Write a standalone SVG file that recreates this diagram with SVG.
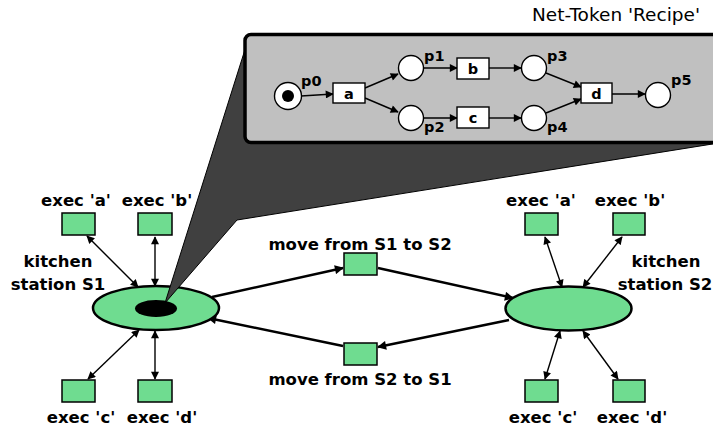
<svg xmlns="http://www.w3.org/2000/svg" width="713" height="430" viewBox="0 0 713 430">
<defs>
<style>
.lbl{font-family:"DejaVu Sans","Liberation Sans",sans-serif;font-weight:bold;font-size:16.5px;fill:#000}
.tl{font-family:"DejaVu Sans","Liberation Sans",sans-serif;font-weight:bold;font-size:14.5px;fill:#000}
.title{font-family:"DejaVu Sans","Liberation Sans",sans-serif;font-size:18.5px;fill:#000}
.place{fill:#6fdc90;stroke:#000;stroke-width:2.5}
.trans{fill:#6fdc90;stroke:#000;stroke-width:1.5}
.tplace{fill:#fff;stroke:#000;stroke-width:1.4}
.ttrans{fill:#fff;stroke:#000;stroke-width:1.4}
.arc{fill:none;stroke:#000;stroke-width:2.5}
.dbl{fill:none;stroke:#000;stroke-width:1.4}
.tarc{fill:none;stroke:#000;stroke-width:1.4}
</style>
<marker id="big" viewBox="0 0 10 10" refX="9" refY="5" markerWidth="12" markerHeight="9" markerUnits="userSpaceOnUse" orient="auto-start-reverse"><path d="M0,0 L10,5 L0,10 z" fill="#000"/></marker>
<marker id="sm" viewBox="0 0 10 10" refX="9" refY="5" markerWidth="10" markerHeight="8" markerUnits="userSpaceOnUse" orient="auto-start-reverse"><path d="M0,0 L10,5 L0,10 z" fill="#000"/></marker>
</defs>

<g id="connectors">
<line class="arc" x1="212" y1="297" x2="343" y2="268" marker-end="url(#big)"/>
<line class="arc" x1="378" y1="268" x2="513" y2="298" marker-end="url(#big)"/>
<line class="arc" x1="509" y1="320" x2="378" y2="347" marker-end="url(#big)"/>
<line class="arc" x1="343" y1="346" x2="208" y2="318" marker-end="url(#big)"/>
<line class="dbl" x1="87" y1="236" x2="138" y2="287" marker-start="url(#sm)" marker-end="url(#sm)"/>
<line class="dbl" x1="155" y1="237" x2="155" y2="286" marker-start="url(#sm)" marker-end="url(#sm)"/>
<line class="dbl" x1="139" y1="330" x2="88" y2="379" marker-start="url(#sm)" marker-end="url(#sm)"/>
<line class="dbl" x1="155" y1="331" x2="155" y2="379" marker-start="url(#sm)" marker-end="url(#sm)"/>
<line class="dbl" x1="545" y1="237" x2="562" y2="287" marker-start="url(#sm)" marker-end="url(#sm)"/>
<line class="dbl" x1="622" y1="237" x2="583" y2="287" marker-start="url(#sm)" marker-end="url(#sm)"/>
<line class="dbl" x1="560" y1="331" x2="545" y2="379" marker-start="url(#sm)" marker-end="url(#sm)"/>
<line class="dbl" x1="583" y1="331" x2="618" y2="379" marker-start="url(#sm)" marker-end="url(#sm)"/>
</g>

<g id="S1">
<ellipse class="place" cx="156" cy="308" rx="63" ry="22"/>
<ellipse cx="156" cy="308.5" rx="21" ry="8.5" fill="#000"/>
<text class="lbl" x="58" y="267" text-anchor="middle">kitchen</text>
<text class="lbl" x="58" y="290" text-anchor="middle">station S1</text>
</g>
<g id="S2">
<ellipse class="place" cx="568.5" cy="308.5" rx="63" ry="22"/>
<text class="lbl" x="666" y="267" text-anchor="middle">kitchen</text>
<text class="lbl" x="665" y="290" text-anchor="middle">station S2</text>
</g>

<g id="S1-exec-a"><rect class="trans" x="62" y="213" width="33" height="22"/><text class="lbl" x="76" y="206" text-anchor="middle">exec 'a'</text></g>
<g id="S1-exec-b"><rect class="trans" x="138" y="213" width="34" height="22"/><text class="lbl" x="157" y="206" text-anchor="middle">exec 'b'</text></g>
<g id="S1-exec-c"><rect class="trans" x="62" y="380" width="33" height="22"/><text class="lbl" x="81" y="423" text-anchor="middle">exec 'c'</text></g>
<g id="S1-exec-d"><rect class="trans" x="138" y="380" width="34" height="22"/><text class="lbl" x="162" y="423" text-anchor="middle">exec 'd'</text></g>

<g id="S2-exec-a"><rect class="trans" x="525" y="213" width="33" height="22"/><text class="lbl" x="541" y="206" text-anchor="middle">exec 'a'</text></g>
<g id="S2-exec-b"><rect class="trans" x="613" y="213" width="32" height="22"/><text class="lbl" x="630" y="206" text-anchor="middle">exec 'b'</text></g>
<g id="S2-exec-c"><rect class="trans" x="525" y="380" width="33" height="22"/><text class="lbl" x="543" y="423" text-anchor="middle">exec 'c'</text></g>
<g id="S2-exec-d"><rect class="trans" x="613" y="380" width="32" height="22"/><text class="lbl" x="632" y="423" text-anchor="middle">exec 'd'</text></g>

<g id="move-S1-S2"><rect class="trans" x="344" y="253" width="33" height="22"/><text class="lbl" x="360" y="250" text-anchor="middle">move from S1 to S2</text></g>
<g id="move-S2-S1"><rect class="trans" x="344" y="343" width="33" height="22"/><text class="lbl" x="360" y="385" text-anchor="middle">move from S2 to S1</text></g>

<g id="net-token">
<polygon points="165,303 248,40 725,40 725,142 237,220" fill="#404040" stroke="#000" stroke-width="1"/>
<rect x="245" y="34.5" width="480" height="108" rx="6" fill="#c0c0c0" stroke="#000" stroke-width="3.5"/>
<text class="title" x="700" y="21" text-anchor="end">Net-Token 'Recipe'</text>
<g id="token-arcs">
<line class="tarc" x1="301" y1="96" x2="333" y2="94" marker-end="url(#sm)"/>
<line class="tarc" x1="365" y1="88" x2="398" y2="74" marker-end="url(#sm)"/>
<line class="tarc" x1="365" y1="98" x2="398" y2="112" marker-end="url(#sm)"/>
<line class="tarc" x1="424" y1="68" x2="457" y2="68" marker-end="url(#sm)"/>
<line class="tarc" x1="424" y1="118" x2="457" y2="118" marker-end="url(#sm)"/>
<line class="tarc" x1="489" y1="68" x2="521" y2="68" marker-end="url(#sm)"/>
<line class="tarc" x1="489" y1="118" x2="521" y2="118" marker-end="url(#sm)"/>
<line class="tarc" x1="546" y1="73" x2="581" y2="87" marker-end="url(#sm)"/>
<line class="tarc" x1="546" y1="113" x2="581" y2="99" marker-end="url(#sm)"/>
<line class="tarc" x1="612" y1="94" x2="645" y2="94" marker-end="url(#sm)"/>
</g>
<g id="p0"><circle class="tplace" cx="288" cy="96" r="13.5"/><circle cx="288" cy="96" r="6" fill="#000"/><text class="tl" x="301" y="86">p0</text></g>
<g id="t-a"><rect class="ttrans" x="333" y="83" width="32" height="20"/><text class="tl" x="349" y="99" text-anchor="middle">a</text></g>
<g id="p1"><circle class="tplace" cx="411" cy="68" r="12.5"/><text class="tl" x="424" y="61">p1</text></g>
<g id="p2"><circle class="tplace" cx="411" cy="118" r="12.5"/><text class="tl" x="424" y="132">p2</text></g>
<g id="t-b"><rect class="ttrans" x="457" y="58" width="32" height="21"/><text class="tl" x="473" y="74" text-anchor="middle">b</text></g>
<g id="t-c"><rect class="ttrans" x="457" y="107" width="32" height="21"/><text class="tl" x="473" y="123" text-anchor="middle">c</text></g>
<g id="p3"><circle class="tplace" cx="534" cy="68" r="12.5"/><text class="tl" x="547" y="61">p3</text></g>
<g id="p4"><circle class="tplace" cx="534" cy="118" r="12.5"/><text class="tl" x="547" y="132">p4</text></g>
<g id="t-d"><rect class="ttrans" x="581" y="83" width="31" height="20"/><text class="tl" x="596.5" y="99" text-anchor="middle">d</text></g>
<g id="p5"><circle class="tplace" cx="658" cy="95" r="12.5"/><text class="tl" x="671" y="85">p5</text></g>
</g>
</svg>
